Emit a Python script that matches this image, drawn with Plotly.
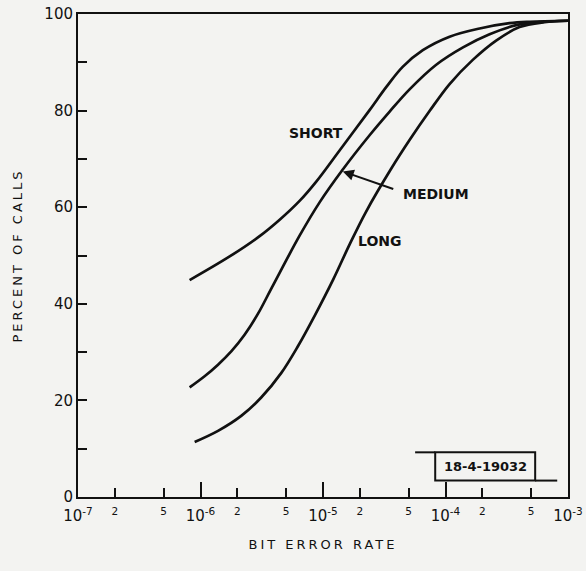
import math
import plotly.graph_objects as go

# ---- data ----
ber_short = [8.15e-7, 1.73e-6, 3.04e-6, 4.43e-6, 6.44e-6, 8.81e-6, 1.37e-5, 2.40e-5,
             3.29e-5, 4.49e-5, 6.53e-5, 1.08e-4, 1.90e-4, 3.33e-4, 4.85e-4, 1.0e-3]
pct_short = [44.9, 49.8, 54.0, 57.4, 61.3, 65.3, 71.8, 80.1,
             84.9, 89.1, 92.5, 95.3, 97.0, 98.1, 98.4, 98.6]

ber_medium = [8.15e-7, 1.08e-6, 1.39e-6, 1.79e-6, 2.29e-6, 2.94e-6, 3.83e-6,
              6.44e-6, 9.38e-6, 1.45e-5, 2.40e-5, 3.50e-5, 5.09e-5, 8.40e-5,
              1.39e-4, 2.29e-4, 3.78e-4, 5.85e-4, 1.0e-3]
pct_medium = [22.7, 25.0, 27.4, 30.2, 33.6, 37.9, 43.4,
              54.1, 61.0, 67.8, 74.9, 79.8, 84.4, 89.5,
              93.1, 95.8, 97.7, 98.3, 98.6]

ber_long = [8.96e-7, 1.39e-6, 2.15e-6, 3.13e-6, 4.57e-6, 6.24e-6, 8.54e-6, 1.21e-5,
            1.65e-5, 2.25e-5, 3.61e-5, 5.09e-5, 7.41e-5, 1.08e-4, 1.67e-4,
            2.59e-4, 4.02e-4, 6.43e-4, 1.0e-3]
pct_long = [11.4, 13.7, 16.8, 20.6, 25.7, 31.2, 37.5, 45.0,
            52.3, 59.1, 68.0, 73.9, 79.9, 85.5, 90.5,
            94.5, 97.3, 98.3, 98.6]

x_tickvals = [1e-7, 2e-7, 5e-7, 1e-6, 2e-6, 5e-6, 1e-5, 2e-5, 5e-5, 1e-4, 2e-4, 5e-4, 1e-3]
x_ticktext = ["10<sup>-7</sup>", "<sup>2</sup>", "<sup>5</sup>",
              "10<sup>-6</sup>", "<sup>2</sup>", "<sup>5</sup>",
              "10<sup>-5</sup>", "<sup>2</sup>", "<sup>5</sup>",
              "10<sup>-4</sup>", "<sup>2</sup>", "<sup>5</sup>",
              "10<sup>-3</sup>"]
x_decades = [1e-7, 1e-6, 1e-5, 1e-4, 1e-3]
y_tickvals = [0, 10, 20, 30, 40, 50, 60, 70, 80, 90, 100]
y_ticktext = ["0", "", "20", "", "40", "", "60", "", "80", "", "100"]

labels = ["SHORT", "MEDIUM", "LONG"]
label_ber = [8.8e-6, 8.3e-5, 2.9e-5]
label_pct = [75.4, 62.7, 52.9]
arrow_ber = 1.45e-5
arrow_pct = 67.4
stamp_text = "18-4-19032"

BG = "#f3f3f1"
INK = "#111111"
FONT = "DejaVu Sans"

fig = go.Figure()
for xs, ys, name in [(ber_short, pct_short, "SHORT"),
                     (ber_medium, pct_medium, "MEDIUM"),
                     (ber_long, pct_long, "LONG")]:
    fig.add_trace(go.Scatter(x=xs, y=ys, mode="lines", name=name,
                             line=dict(color=INK, width=2.7, shape="spline", smoothing=1.0),
                             showlegend=False, hoverinfo="skip"))

for t, xb, yp in zip(labels, label_ber, label_pct):
    fig.add_annotation(x=math.log10(xb), y=yp, xref="x", yref="y", text="<b>" + t + "</b>",
                       showarrow=False, font=dict(family=FONT, size=14, color=INK))

fig.add_annotation(x=math.log10(arrow_ber), y=arrow_pct, xref="x", yref="y", text="",
                   showarrow=True, ax=52, ay=18, arrowhead=2, arrowsize=1.1,
                   arrowwidth=2, arrowcolor=INK)

# stamp box
fig.add_shape(type="rect", xref="paper", yref="paper", x0=0.729, x1=0.933, y0=0.034, y1=0.0925,
              line=dict(color=INK, width=2), fillcolor="rgba(0,0,0,0)")
fig.add_shape(type="line", xref="paper", yref="paper", x0=0.688, x1=0.729, y0=0.0925, y1=0.0925,
              line=dict(color=INK, width=2))
fig.add_shape(type="line", xref="paper", yref="paper", x0=0.933, x1=0.978, y0=0.034, y1=0.034,
              line=dict(color=INK, width=2))
fig.add_annotation(x=0.831, y=0.063, xref="paper", yref="paper", text="<b>" + stamp_text + "</b>",
                   xanchor="center", yanchor="middle",
                   showarrow=False, font=dict(family=FONT, size=13, color=INK))

fig.update_xaxes(type="log", range=[-7, -3], tickmode="array", tickvals=x_tickvals,
                 ticktext=x_ticktext, ticks="inside", ticklen=9, tickwidth=2, tickcolor=INK,
                 minor=dict(tickmode="array", tickvals=x_decades, ticks="inside", ticklen=15,
                            tickwidth=2, tickcolor=INK, showgrid=False),
                 showline=True, linecolor=INK, linewidth=2, mirror=True, showgrid=False,
                 zeroline=False, ticklabelstandoff=4,
                 tickfont=dict(family=FONT, size=15, color=INK),
                 title=dict(text='<span style="letter-spacing:3px">BIT ERROR RATE</span>',
                            font=dict(family=FONT, size=13, color=INK), standoff=16))
fig.update_yaxes(range=[0, 100], tickmode="array", tickvals=y_tickvals, ticktext=y_ticktext,
                 ticks="inside", ticklen=9, tickwidth=2, tickcolor=INK,
                 showline=True, linecolor=INK, linewidth=2, mirror=True, showgrid=False,
                 zeroline=False,
                 tickfont=dict(family=FONT, size=15, color=INK),
                 title=dict(text='<span style="letter-spacing:3px">PERCENT OF CALLS</span>',
                            font=dict(family=FONT, size=13, color=INK), standoff=19))

fig.update_layout(width=586, height=571, margin=dict(l=78, r=18, t=14, b=74, autoexpand=False),
                  paper_bgcolor=BG, plot_bgcolor=BG, showlegend=False)

fig.write_html("out.html")
